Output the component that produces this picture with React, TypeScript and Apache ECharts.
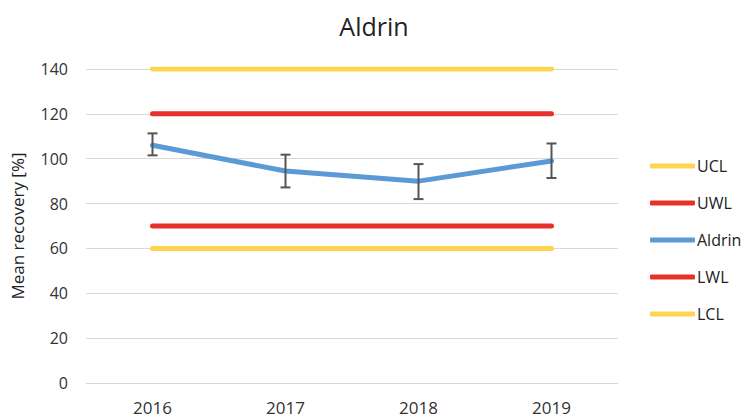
import React, { useEffect, useRef } from "react";
import * as echarts from "echarts";

const years = ["2016", "2017", "2018", "2019"];
const aldrin = [106, 94.5, 90, 99];
const errLow = [101.5, 87.2, 82, 91.4];
const errHigh = [111.3, 101.8, 97.6, 106.8];
const ucl = [140, 140, 140, 140];
const uwl = [120, 120, 120, 120];
const lwl = [70, 70, 70, 70];
const lcl = [60, 60, 60, 60];

const YELLOW = "#FFD54F";
const RED = "#E8302A";
const BLUE = "#5B9BD5";
const FONT = "Open Sans";

export default function App() {
  const ref = useRef<HTMLDivElement>(null);
  useEffect(() => {
    const chart = echarts.init(ref.current!, null, { renderer: "svg" });
    const lineSeries = (name: string, data: number[], color: string, z = 2) => ({
      name,
      type: "line",
      data,
      showSymbol: false,
      symbol: "none",
      z,
      lineStyle: { color, width: 5, cap: "round" },
      itemStyle: { color },
    });
    chart.setOption({
      animation: false,
      backgroundColor: "#fff",
      textStyle: { fontFamily: FONT },
      title: {
        text: "Aldrin",
        left: "center",
        top: 8,
        textStyle: { fontFamily: FONT, fontSize: 25, fontWeight: "normal", color: "#222" },
      },
      grid: { left: 86, right: 130, top: 69, bottom: 36, outerBoundsMode: "none" },
      legend: {
        orient: "vertical",
        left: 645,
        top: 153,
        itemWidth: 45,
        itemHeight: 5,
        itemGap: 21,
        icon: "roundRect",
        textStyle: { fontFamily: FONT, fontSize: 16, color: "#222", padding: [0, 0, 0, -3] },
        data: ["UCL", "UWL", "Aldrin", "LWL", "LCL"],
      },
      xAxis: {
        type: "category",
        data: years,
        boundaryGap: true,
        axisTick: { show: false },
        axisLine: { show: true, lineStyle: { color: "#D9D9D9" } },
        axisLabel: { fontFamily: FONT, fontSize: 17, color: "#333", margin: 16 },
      },
      yAxis: {
        type: "value",
        min: 0,
        max: 140,
        interval: 20,
        name: "Mean recovery [%]",
        nameLocation: "middle",
        nameGap: 60,
        nameTextStyle: { fontFamily: FONT, fontSize: 17, color: "#222" },
        axisLine: { show: false },
        axisTick: { show: false },
        axisLabel: { fontFamily: FONT, fontSize: 16, color: "#333", margin: 18 },
        splitLine: { lineStyle: { color: "#D9D9D9", width: 1 } },
      },
      series: [
        lineSeries("UCL", ucl, YELLOW),
        lineSeries("UWL", uwl, RED),
        lineSeries("Aldrin", aldrin, BLUE, 3),
        lineSeries("LWL", lwl, RED),
        lineSeries("LCL", lcl, YELLOW),
        {
          type: "custom",
          name: "err",
          z: 4,
          data: years.map((_, i) => [i, errLow[i], errHigh[i]]),
          renderItem: (params: any, api: any) => {
            const x = api.value(0);
            const lo = api.coord([x, api.value(1)]);
            const hi = api.coord([x, api.value(2)]);
            const w = 5;
            const style = { stroke: "#555", lineWidth: 2 };
            return {
              type: "group",
              children: [
                { type: "line", shape: { x1: lo[0], y1: lo[1], x2: hi[0], y2: hi[1] }, style },
                { type: "line", shape: { x1: lo[0] - w, y1: lo[1], x2: lo[0] + w, y2: lo[1] }, style },
                { type: "line", shape: { x1: hi[0] - w, y1: hi[1], x2: hi[0] + w, y2: hi[1] }, style },
              ],
            };
          },
        },
      ],
    });
    return () => chart.dispose();
  }, []);
  return <div ref={ref} style={{ width: 748, height: 419, position: "fixed", left: 0, top: 0 }} />;
}
